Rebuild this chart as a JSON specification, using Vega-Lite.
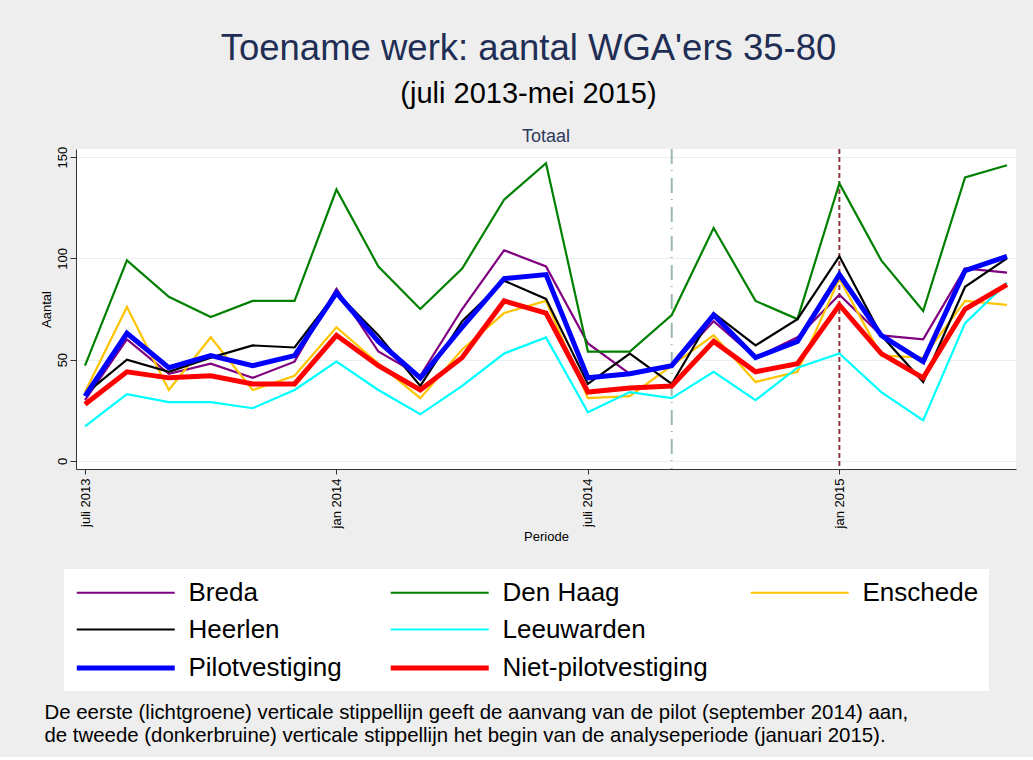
{
  "$schema": "https://vega.github.io/schema/vega-lite/v6.json",
  "background": "#EEEEEE",
  "padding": {"left": 40, "top": 30, "right": 16, "bottom": 10},
  "title": {
    "text": "Toename werk: aantal WGA'ers 35-80",
    "subtitle": "(juli 2013-mei 2015)",
    "anchor": "middle",
    "font": "Liberation Sans",
    "subtitleFont": "Liberation Sans",
    "fontSize": 36.5,
    "subtitleFontSize": 29,
    "fontWeight": "normal",
    "subtitleFontWeight": "normal",
    "color": "#1F2E55",
    "subtitleColor": "#000000",
    "subtitlePadding": 13,
    "offset": 19
  },
  "config": {
    "font": "Liberation Sans",
    "view": {"stroke": null},
    "axis": {
      "labelFont": "Liberation Sans",
      "titleFont": "Liberation Sans",
      "labelColor": "#000000",
      "titleColor": "#000000",
      "titleFontWeight": "normal",
      "labelFontSize": 13,
      "titleFontSize": 13,
      "domainColor": "#333333",
      "tickColor": "#333333"
    }
  },
  "spacing": 157,
  "vconcat": [
    {
      "width": 940,
      "height": 320,
      "view": {"fill": "white", "stroke": null},
      "title": {"text": "Totaal", "fontSize": 18, "color": "#2E3A5C", "fontWeight": "normal", "font": "Liberation Sans", "anchor": "middle", "offset": 0},
      "data": {"values": [
        {"maand":"2013-07","reeks":"Breda","aantal":30},{"maand":"2013-08","reeks":"Breda","aantal":60},{"maand":"2013-09","reeks":"Breda","aantal":43},{"maand":"2013-10","reeks":"Breda","aantal":48},{"maand":"2013-11","reeks":"Breda","aantal":41},{"maand":"2013-12","reeks":"Breda","aantal":49},{"maand":"2014-01","reeks":"Breda","aantal":85},{"maand":"2014-02","reeks":"Breda","aantal":54},{"maand":"2014-03","reeks":"Breda","aantal":42},{"maand":"2014-04","reeks":"Breda","aantal":75},{"maand":"2014-05","reeks":"Breda","aantal":104},{"maand":"2014-06","reeks":"Breda","aantal":96},{"maand":"2014-07","reeks":"Breda","aantal":58},{"maand":"2014-08","reeks":"Breda","aantal":43},{"maand":"2014-09","reeks":"Breda","aantal":47},{"maand":"2014-10","reeks":"Breda","aantal":69},{"maand":"2014-11","reeks":"Breda","aantal":51},{"maand":"2014-12","reeks":"Breda","aantal":61},{"maand":"2015-01","reeks":"Breda","aantal":82},{"maand":"2015-02","reeks":"Breda","aantal":62},{"maand":"2015-03","reeks":"Breda","aantal":60},{"maand":"2015-04","reeks":"Breda","aantal":95},{"maand":"2015-05","reeks":"Breda","aantal":93},
        {"maand":"2013-07","reeks":"Den Haag","aantal":47},{"maand":"2013-08","reeks":"Den Haag","aantal":99},{"maand":"2013-09","reeks":"Den Haag","aantal":81},{"maand":"2013-10","reeks":"Den Haag","aantal":71},{"maand":"2013-11","reeks":"Den Haag","aantal":79},{"maand":"2013-12","reeks":"Den Haag","aantal":79},{"maand":"2014-01","reeks":"Den Haag","aantal":134},{"maand":"2014-02","reeks":"Den Haag","aantal":96},{"maand":"2014-03","reeks":"Den Haag","aantal":75},{"maand":"2014-04","reeks":"Den Haag","aantal":95},{"maand":"2014-05","reeks":"Den Haag","aantal":129},{"maand":"2014-06","reeks":"Den Haag","aantal":147},{"maand":"2014-07","reeks":"Den Haag","aantal":54},{"maand":"2014-08","reeks":"Den Haag","aantal":54},{"maand":"2014-09","reeks":"Den Haag","aantal":72},{"maand":"2014-10","reeks":"Den Haag","aantal":115},{"maand":"2014-11","reeks":"Den Haag","aantal":79},{"maand":"2014-12","reeks":"Den Haag","aantal":70},{"maand":"2015-01","reeks":"Den Haag","aantal":137},{"maand":"2015-02","reeks":"Den Haag","aantal":99},{"maand":"2015-03","reeks":"Den Haag","aantal":74},{"maand":"2015-04","reeks":"Den Haag","aantal":140},{"maand":"2015-05","reeks":"Den Haag","aantal":146},
        {"maand":"2013-07","reeks":"Enschede","aantal":34},{"maand":"2013-08","reeks":"Enschede","aantal":76},{"maand":"2013-09","reeks":"Enschede","aantal":35},{"maand":"2013-10","reeks":"Enschede","aantal":61},{"maand":"2013-11","reeks":"Enschede","aantal":35},{"maand":"2013-12","reeks":"Enschede","aantal":42},{"maand":"2014-01","reeks":"Enschede","aantal":66},{"maand":"2014-02","reeks":"Enschede","aantal":48},{"maand":"2014-03","reeks":"Enschede","aantal":31},{"maand":"2014-04","reeks":"Enschede","aantal":55},{"maand":"2014-05","reeks":"Enschede","aantal":73},{"maand":"2014-06","reeks":"Enschede","aantal":79},{"maand":"2014-07","reeks":"Enschede","aantal":31},{"maand":"2014-08","reeks":"Enschede","aantal":32},{"maand":"2014-09","reeks":"Enschede","aantal":47},{"maand":"2014-10","reeks":"Enschede","aantal":62},{"maand":"2014-11","reeks":"Enschede","aantal":39},{"maand":"2014-12","reeks":"Enschede","aantal":44},{"maand":"2015-01","reeks":"Enschede","aantal":90},{"maand":"2015-02","reeks":"Enschede","aantal":52},{"maand":"2015-03","reeks":"Enschede","aantal":51},{"maand":"2015-04","reeks":"Enschede","aantal":79},{"maand":"2015-05","reeks":"Enschede","aantal":77},
        {"maand":"2013-07","reeks":"Heerlen","aantal":33},{"maand":"2013-08","reeks":"Heerlen","aantal":50},{"maand":"2013-09","reeks":"Heerlen","aantal":44},{"maand":"2013-10","reeks":"Heerlen","aantal":51},{"maand":"2013-11","reeks":"Heerlen","aantal":57},{"maand":"2013-12","reeks":"Heerlen","aantal":56},{"maand":"2014-01","reeks":"Heerlen","aantal":83},{"maand":"2014-02","reeks":"Heerlen","aantal":62},{"maand":"2014-03","reeks":"Heerlen","aantal":37},{"maand":"2014-04","reeks":"Heerlen","aantal":69},{"maand":"2014-05","reeks":"Heerlen","aantal":89},{"maand":"2014-06","reeks":"Heerlen","aantal":80},{"maand":"2014-07","reeks":"Heerlen","aantal":38},{"maand":"2014-08","reeks":"Heerlen","aantal":53},{"maand":"2014-09","reeks":"Heerlen","aantal":38},{"maand":"2014-10","reeks":"Heerlen","aantal":73},{"maand":"2014-11","reeks":"Heerlen","aantal":57},{"maand":"2014-12","reeks":"Heerlen","aantal":70},{"maand":"2015-01","reeks":"Heerlen","aantal":101},{"maand":"2015-02","reeks":"Heerlen","aantal":62},{"maand":"2015-03","reeks":"Heerlen","aantal":39},{"maand":"2015-04","reeks":"Heerlen","aantal":86},{"maand":"2015-05","reeks":"Heerlen","aantal":100},
        {"maand":"2013-07","reeks":"Leeuwarden","aantal":17},{"maand":"2013-08","reeks":"Leeuwarden","aantal":33},{"maand":"2013-09","reeks":"Leeuwarden","aantal":29},{"maand":"2013-10","reeks":"Leeuwarden","aantal":29},{"maand":"2013-11","reeks":"Leeuwarden","aantal":26},{"maand":"2013-12","reeks":"Leeuwarden","aantal":35},{"maand":"2014-01","reeks":"Leeuwarden","aantal":49},{"maand":"2014-02","reeks":"Leeuwarden","aantal":35},{"maand":"2014-03","reeks":"Leeuwarden","aantal":23},{"maand":"2014-04","reeks":"Leeuwarden","aantal":37},{"maand":"2014-05","reeks":"Leeuwarden","aantal":53},{"maand":"2014-06","reeks":"Leeuwarden","aantal":61},{"maand":"2014-07","reeks":"Leeuwarden","aantal":24},{"maand":"2014-08","reeks":"Leeuwarden","aantal":34},{"maand":"2014-09","reeks":"Leeuwarden","aantal":31},{"maand":"2014-10","reeks":"Leeuwarden","aantal":44},{"maand":"2014-11","reeks":"Leeuwarden","aantal":30},{"maand":"2014-12","reeks":"Leeuwarden","aantal":46},{"maand":"2015-01","reeks":"Leeuwarden","aantal":53},{"maand":"2015-02","reeks":"Leeuwarden","aantal":34},{"maand":"2015-03","reeks":"Leeuwarden","aantal":20},{"maand":"2015-04","reeks":"Leeuwarden","aantal":68},{"maand":"2015-05","reeks":"Leeuwarden","aantal":88},
        {"maand":"2013-07","reeks":"Niet-pilotvestiging","aantal":28},{"maand":"2013-08","reeks":"Niet-pilotvestiging","aantal":44},{"maand":"2013-09","reeks":"Niet-pilotvestiging","aantal":41},{"maand":"2013-10","reeks":"Niet-pilotvestiging","aantal":42},{"maand":"2013-11","reeks":"Niet-pilotvestiging","aantal":38},{"maand":"2013-12","reeks":"Niet-pilotvestiging","aantal":38},{"maand":"2014-01","reeks":"Niet-pilotvestiging","aantal":62},{"maand":"2014-02","reeks":"Niet-pilotvestiging","aantal":47},{"maand":"2014-03","reeks":"Niet-pilotvestiging","aantal":35},{"maand":"2014-04","reeks":"Niet-pilotvestiging","aantal":51},{"maand":"2014-05","reeks":"Niet-pilotvestiging","aantal":79},{"maand":"2014-06","reeks":"Niet-pilotvestiging","aantal":73},{"maand":"2014-07","reeks":"Niet-pilotvestiging","aantal":34},{"maand":"2014-08","reeks":"Niet-pilotvestiging","aantal":36},{"maand":"2014-09","reeks":"Niet-pilotvestiging","aantal":37},{"maand":"2014-10","reeks":"Niet-pilotvestiging","aantal":59},{"maand":"2014-11","reeks":"Niet-pilotvestiging","aantal":44},{"maand":"2014-12","reeks":"Niet-pilotvestiging","aantal":48},{"maand":"2015-01","reeks":"Niet-pilotvestiging","aantal":77},{"maand":"2015-02","reeks":"Niet-pilotvestiging","aantal":53},{"maand":"2015-03","reeks":"Niet-pilotvestiging","aantal":41},{"maand":"2015-04","reeks":"Niet-pilotvestiging","aantal":75},{"maand":"2015-05","reeks":"Niet-pilotvestiging","aantal":87},
        {"maand":"2013-07","reeks":"Pilotvestiging","aantal":32},{"maand":"2013-08","reeks":"Pilotvestiging","aantal":63},{"maand":"2013-09","reeks":"Pilotvestiging","aantal":46},{"maand":"2013-10","reeks":"Pilotvestiging","aantal":52},{"maand":"2013-11","reeks":"Pilotvestiging","aantal":47},{"maand":"2013-12","reeks":"Pilotvestiging","aantal":52},{"maand":"2014-01","reeks":"Pilotvestiging","aantal":83},{"maand":"2014-02","reeks":"Pilotvestiging","aantal":59},{"maand":"2014-03","reeks":"Pilotvestiging","aantal":41},{"maand":"2014-04","reeks":"Pilotvestiging","aantal":66},{"maand":"2014-05","reeks":"Pilotvestiging","aantal":90},{"maand":"2014-06","reeks":"Pilotvestiging","aantal":92},{"maand":"2014-07","reeks":"Pilotvestiging","aantal":41},{"maand":"2014-08","reeks":"Pilotvestiging","aantal":43},{"maand":"2014-09","reeks":"Pilotvestiging","aantal":47},{"maand":"2014-10","reeks":"Pilotvestiging","aantal":72},{"maand":"2014-11","reeks":"Pilotvestiging","aantal":51},{"maand":"2014-12","reeks":"Pilotvestiging","aantal":59},{"maand":"2015-01","reeks":"Pilotvestiging","aantal":92},{"maand":"2015-02","reeks":"Pilotvestiging","aantal":62},{"maand":"2015-03","reeks":"Pilotvestiging","aantal":49},{"maand":"2015-04","reeks":"Pilotvestiging","aantal":94},{"maand":"2015-05","reeks":"Pilotvestiging","aantal":101}
      ]},
      "encoding": {
        "x": {
          "field": "maand",
          "type": "ordinal",
          "title": "Periode",
          "scale": {"type": "point", "padding": 0.215},
          "axis": {
            "values": ["2013-07", "2014-01", "2014-07", "2015-01"],
            "labelExpr": "(substring(datum.value,5,7)=='07' ? 'juli ' : 'jan ') + substring(datum.value,0,4)",
            "labelAngle": -90,
            "tickSize": 5,
            "labelPadding": 4,
            "titlePadding": 3,
            "grid": false
          }
        }
      },
      "layer": [
        {
          "data": {"values": [{"maand": "2014-09", "lijn": "start pilot"}]},
          "mark": {"type": "rule", "color": "#9BB9B1", "strokeWidth": 2, "strokeDash": [15, 6, 1, 7]},
          "encoding": {}
        },
        {
          "data": {"values": [{"maand": "2015-01", "lijn": "begin analyseperiode"}]},
          "mark": {"type": "rule", "color": "#8E3842", "strokeWidth": 2, "strokeDash": [5, 3]},
          "encoding": {}
        },
        {
          "mark": {"type": "line", "strokeJoin": "miter"},
          "encoding": {
            "y": {
              "field": "aantal",
              "type": "quantitative",
              "title": "Aantal",
              "scale": {"domain": [-4, 154], "nice": false, "zero": false},
              "axis": {"values": [0, 50, 100, 150], "labelAngle": -90, "grid": true, "gridColor": "#E6EFF1", "tickSize": 6, "labelPadding": 1, "titlePadding": 3}
            },
            "color": {
              "field": "reeks",
              "type": "nominal",
              "scale": {
                "domain": ["Breda", "Den Haag", "Enschede", "Heerlen", "Leeuwarden", " ", "Pilotvestiging", "Niet-pilotvestiging"],
                "range": ["#800080", "#008000", "#FFC400", "#000000", "#00FFFF", "transparent", "#0000FF", "#FF0000"]
              },
              "legend": {
                "orient": "none", "legendX": -12, "legendY": 420,
                "direction": "horizontal", "columns": 3, "title": null,
                "symbolType": "M-1,0H7", "symbolSize": 600,
                "labelFontSize": 26, "labelFont": "Liberation Sans", "labelColor": "#000000",
                "labelOffset": 84.5, "columnPadding": 38, "rowPadding": 10, "padding": 10,
                "fillColor": "white", "labelLimit": 400,
                "encode": {"symbols": {"update": {"strokeWidth": {"signal": "indexof(['Pilotvestiging','Niet-pilotvestiging'], datum.value) >= 0 ? 6.5 : 3.2"}}}}
              }
            },
            "strokeWidth": {
              "field": "reeks",
              "type": "nominal",
              "scale": {
                "type": "ordinal",
                "domain": ["Breda", "Den Haag", "Enschede", "Heerlen", "Leeuwarden", " ", "Pilotvestiging", "Niet-pilotvestiging"],
                "range": [2.2, 2.2, 2.2, 2.2, 2.2, 0, 5, 5]
              },
              "legend": null
            }
          }
        }
      ]
    },
    {
      "width": 1,
      "height": 46,
      "data": {"values": [
        {"regel": 1, "tekst": "De eerste (lichtgroene) verticale stippellijn geeft de aanvang van de pilot (september 2014) aan,"},
        {"regel": 2, "tekst": "de tweede (donkerbruine) verticale stippellijn het begin van de analyseperiode (januari 2015)."}
      ]},
      "mark": {"type": "text", "align": "left", "baseline": "middle", "fontSize": 20.4, "font": "Liberation Sans", "color": "#000000", "dx": -32},
      "encoding": {
        "y": {"field": "regel", "type": "ordinal", "axis": null},
        "text": {"field": "tekst", "type": "nominal"}
      }
    }
  ]
}
